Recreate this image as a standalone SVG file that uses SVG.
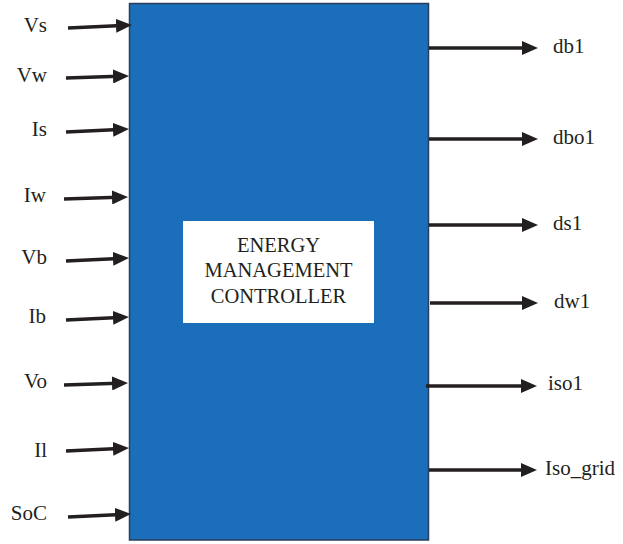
<svg xmlns="http://www.w3.org/2000/svg" width="623" height="544" viewBox="0 0 623 544">
<style>
.lbl{font-family:"Liberation Serif","Times New Roman",serif;font-size:21px;fill:#231f20}
.in{text-anchor:end}
.ctr{font-family:"Liberation Serif","Times New Roman",serif;font-size:20.5px;fill:#231f20;text-anchor:middle}
.arr{stroke:#231f20;stroke-width:3.5;fill:none;marker-end:url(#ah)}
</style>
<defs>
<marker id="ah" viewBox="0 0 16 14" refX="6" refY="7" markerWidth="16" markerHeight="14" markerUnits="userSpaceOnUse" orient="auto">
<path d="M0,0 L16,7 L0,14 z" fill="#231f20"/>
</marker>
</defs>
<rect width="623" height="544" fill="#ffffff"/>
<g id="controller">
<rect x="129.5" y="3.5" width="299" height="536.5" fill="#1b6fba" stroke="#2a3d5c" stroke-width="1.5"/>
<rect x="183" y="221" width="191" height="102" fill="#ffffff"/>
<text class="ctr" x="278.5" y="252">ENERGY</text>
<text class="ctr" x="278.5" y="277">MANAGEMENT</text>
<text class="ctr" x="278.5" y="303">CONTROLLER</text>
</g>
<g id="inputs">
<g id="in-Vs"><text class="lbl in" x="47" y="32">Vs</text></g>
<g id="in-Vw"><text class="lbl in" x="47" y="82">Vw</text></g>
<g id="in-Is"><text class="lbl in" x="47" y="136">Is</text></g>
<g id="in-Iw"><text class="lbl in" x="46" y="202">Iw</text></g>
<g id="in-Vb"><text class="lbl in" x="47" y="264">Vb</text></g>
<g id="in-Ib"><text class="lbl in" x="46" y="323">Ib</text></g>
<g id="in-Vo"><text class="lbl in" x="47" y="388">Vo</text></g>
<g id="in-Il"><text class="lbl in" x="47" y="457">Il</text></g>
<g id="in-SoC"><text class="lbl in" x="47" y="520">SoC</text></g>
</g>
<g id="outputs">
<g id="out-db1"><text class="lbl" x="553" y="53">db1</text></g>
<g id="out-dbo1"><text class="lbl" x="553" y="144">dbo1</text></g>
<g id="out-ds1"><text class="lbl" x="553" y="230">ds1</text></g>
<g id="out-dw1"><text class="lbl" x="554" y="308">dw1</text></g>
<g id="out-iso1"><text class="lbl" x="548" y="390">iso1</text></g>
<g id="out-Iso_grid"><text class="lbl" x="545" y="475">Iso_grid</text></g>
</g>
<g id="connectors">
<path class="arr" d="M68,28 L122,25.5"/>
<path class="arr" d="M66,78 L119,76.3"/>
<path class="arr" d="M66,132 L119,129.5"/>
<path class="arr" d="M64,199 L118,197.3"/>
<path class="arr" d="M66,261 L119,258.5"/>
<path class="arr" d="M66,320 L119,317.5"/>
<path class="arr" d="M64,385 L118,383.3"/>
<path class="arr" d="M66,451 L119,448.5"/>
<path class="arr" d="M68,517 L121,514.5"/>
<path class="arr" d="M429,48 L528,48"/>
<path class="arr" d="M429,139 L528,139"/>
<path class="arr" d="M429,225 L528,225"/>
<path class="arr" d="M430,303 L528,303"/>
<path class="arr" d="M426,386 L527,386"/>
<path class="arr" d="M429,470 L527,470"/>
</g>
</svg>
